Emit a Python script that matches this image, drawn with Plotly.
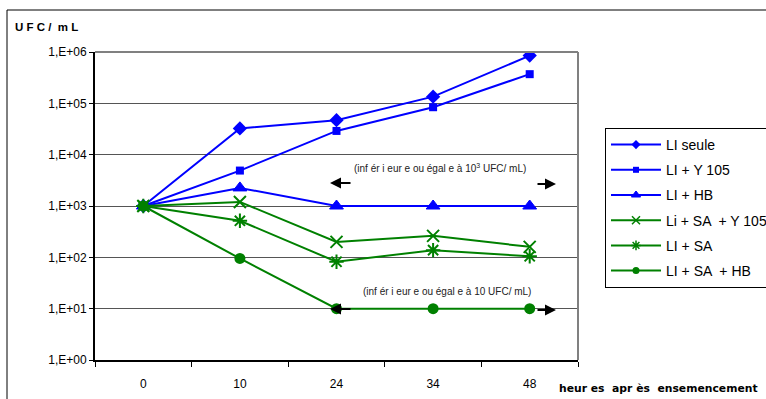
import plotly.graph_objects as go

hours = ["0", "10", "24", "34", "48"]
li_seule = [1000, 32500, 47000, 135000, 850000]
li_y105 = [1000, 4900, 29000, 84000, 370000]
li_hb = [1000, 2250, 1000, 1000, 1000]
li_sa_y105 = [1000, 1200, 200, 262, 160]
li_sa = [1000, 515, 82, 138, 105]
li_sa_hb = [1000, 95, 10, 10, 10]

y_tickvals = [1, 10, 100, 1000, 10000, 100000, 1000000]
y_ticktext = ["1,E+00", "1,E+01", "1,E+02", "1,E+03", "1,E+04", "1,E+05", "1,E+06"]

BLUE = "#0000FF"
GREEN = "#008000"

# name, values, colour, symbol, plot marker size, outline width, legend marker size
series = [
    ("LI seule", li_seule, BLUE, "diamond", 11, 0, 7),
    ("LI + Y 105", li_y105, BLUE, "square", 8, 0, 6),
    ("LI + HB", li_hb, BLUE, "triangle-up", 12, 1, 8),
    ("Li + SA  + Y 105", li_sa_y105, GREEN, "x-thin-open", 12, 2, 8),
    ("LI + SA", li_sa, GREEN, "asterisk-open", 12, 2, 8),
    ("LI + SA  + HB", li_sa_hb, GREEN, "circle", 11, 0, 7),
]

fig = go.Figure()
for i, (name, vals, col, sym, sz, lw, lsz) in enumerate(series):
    fig.add_trace(go.Scatter(
        x=hours, y=vals, name=name, mode="lines+markers",
        line=dict(color=col, width=2),
        marker=dict(symbol=sym, size=sz, color=col, line=dict(color=col, width=lw)),
        showlegend=False,
    ))
for i, (name, vals, col, sym, sz, lw, lsz) in enumerate(series):
    # legend entries with the smaller legend markers of the reference
    fig.add_trace(go.Scatter(
        x=[None], y=[None], name=name, mode="lines+markers",
        line=dict(color=col, width=2),
        marker=dict(symbol=sym, size=lsz, color=col, line=dict(color=col, width=min(lw, 1.5))),
        legendgroup=f"g{i}", showlegend=True,
    ))

W, H = 766, 399
L, R, T, B = 95, 578, 52, 360
pw, ph = R - L, B - T

def px(x):
    return (x - L) / pw

def py(y):
    return (B - y) / ph

def cat(xp):
    return (xp - L) / (pw / 5) - 0.5

def logy(yp):
    return 6 - (yp - T) / (ph / 6)

shapes = [
    dict(type="rect", xref="paper", yref="paper", x0=px(7), x1=px(775), y0=py(10), y1=py(410),
         line=dict(color="black", width=1), layer="below"),
    dict(type="line", xref="paper", yref="paper", x0=0, x1=1, y0=1, y1=1,
         line=dict(color="#808080", width=2)),
    dict(type="line", xref="paper", yref="paper", x0=1, x1=1, y0=0, y1=1,
         line=dict(color="#808080", width=2)),
]

ann_font = dict(family="Liberation Sans, Arial", size=10, color="#222222")
annotations = [
    dict(text="<b>U F C /  m L</b>", xref="paper", yref="paper", x=px(13), y=py(27),
         xanchor="left", yanchor="middle", showarrow=False,
         font=dict(family="Liberation Sans, Arial", size=11.5, color="black")),
    dict(text="<b>heur es  apr ès  ensemencement</b>", xref="paper", yref="paper", x=px(557), y=py(388),
         xanchor="left", yanchor="middle", showarrow=False,
         font=dict(family="DejaVu Sans", size=10.8, color="black")),
    dict(text="(inf ér i eur e ou égal e à 10<sup>3</sup> UFC/ mL)", x=cat(440), y=logy(168),
         xref="x", yref="y", showarrow=False, font=ann_font),
    dict(text="(inf ér i eur e ou égal e à 10 UFC/ mL)", x=cat(447), y=logy(291),
         xref="x", yref="y", showarrow=False, font=ann_font),
]
for tip, tail, yp in [(330, 352, 183), (556, 536, 184), (330, 352, 309), (556, 536, 310)]:
    annotations.append(dict(text="", x=cat(tip), y=logy(yp), xref="x", yref="y",
                            ax=tail - tip, ay=0, showarrow=True, arrowhead=2,
                            arrowsize=1, arrowwidth=2.2, arrowcolor="black"))

fig.update_layout(
    width=W, height=H,
    margin=dict(l=L, r=W - R, t=T, b=H - B, autoexpand=False),
    paper_bgcolor="white", plot_bgcolor="white",
    font=dict(family="Liberation Sans, Arial", color="black"),
    showlegend=True,
    legend=dict(x=px(605), y=py(128), xanchor="left", yanchor="top",
                bordercolor="black", borderwidth=1, bgcolor="white",
                font=dict(size=14, family="Liberation Sans, Arial"),
                itemwidth=50,
                tracegroupgap=4, traceorder="grouped"),
    shapes=shapes, annotations=annotations,
    xaxis=dict(type="category", categoryorder="array", categoryarray=hours,
               range=[-0.5, 4.5], showgrid=False, showline=True, linecolor="black", linewidth=2,
               ticks="outside", tickson="boundaries", ticklen=5, tickcolor="black", tickwidth=1,
               ticklabelstandoff=12, tickfont=dict(size=12), zeroline=False),
    yaxis=dict(type="log", range=[0, 6], tickvals=y_tickvals, ticktext=y_ticktext,
               showgrid=True, gridcolor="#555555", gridwidth=1,
               showline=True, linecolor="black", linewidth=2,
               ticks="outside", ticklen=4, tickcolor="black", tickwidth=1,
               tickfont=dict(size=12), zeroline=False),
)

fig.write_html("out.html", config={"displayModeBar": False},
               post_script="document.body.style.margin='0';document.body.style.overflow='hidden';")
